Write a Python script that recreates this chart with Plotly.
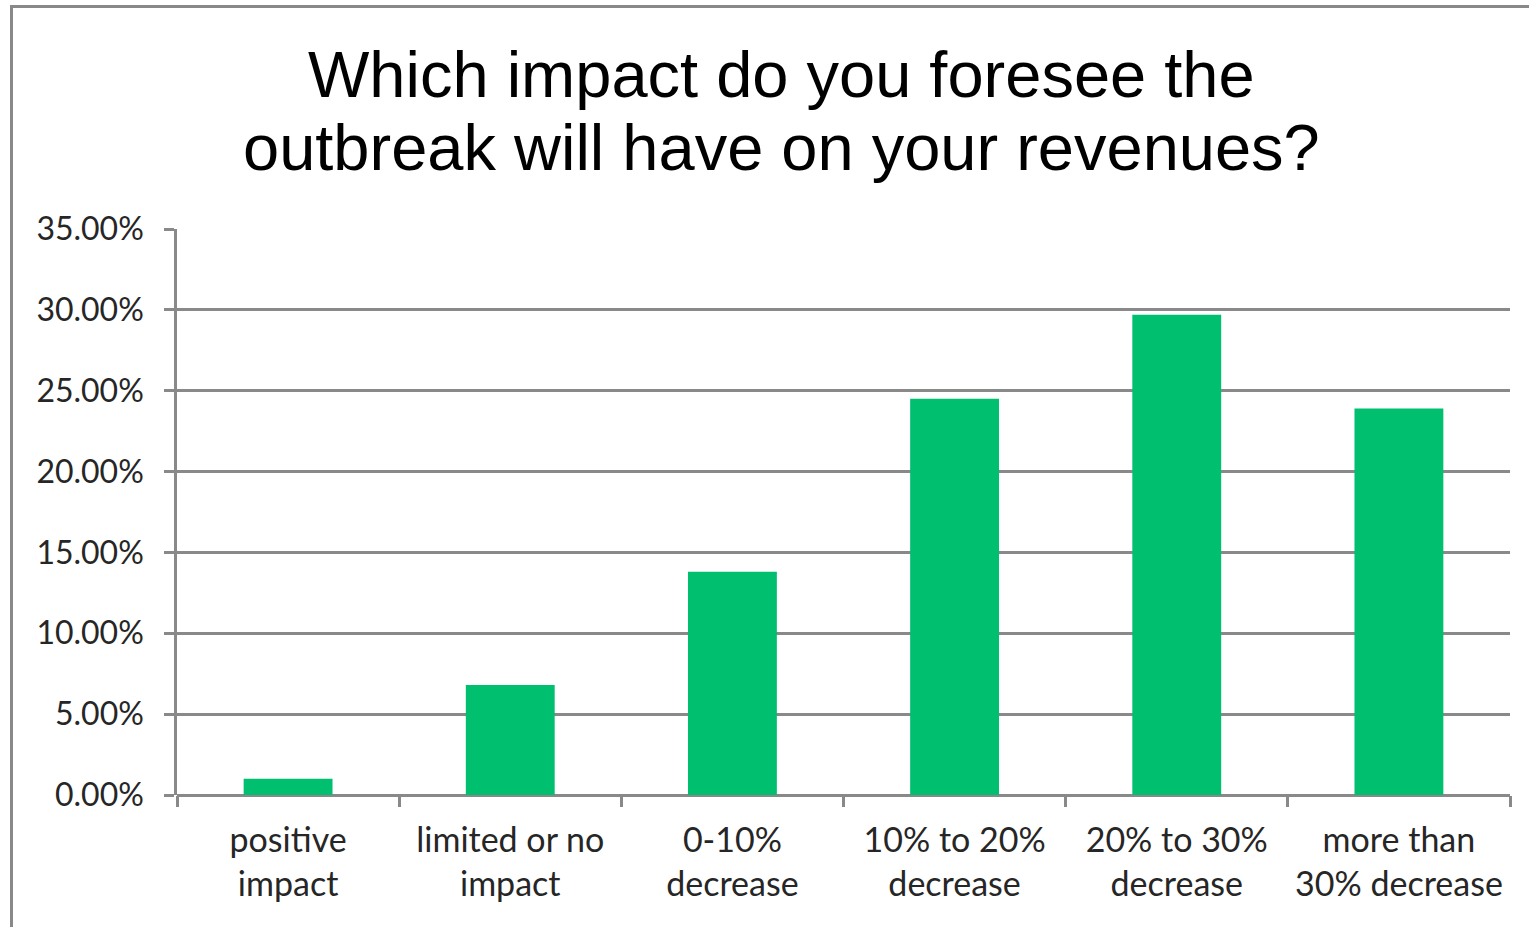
import plotly.graph_objects as go

# Survey answers and share of respondents (%)
categories = [
    "positive<br>impact",
    "limited or no<br>impact",
    "0-10%<br>decrease",
    "10% to 20%<br>decrease",
    "20% to 30%<br>decrease",
    "more than<br>30% decrease",
]
shares = [1.0, 6.8, 13.8, 24.5, 29.7, 23.9]
y_ticks = [0, 5, 10, 15, 20, 25, 30, 35]
title_lines = ["Which impact do you foresee the", "outbreak will have on your revenues?"]

W, H = 1529, 927
PL, PR, PT, PB = 177, 1510, 229, 795  # plot area in pixels


def px_x(p):
    return (p - PL) / (PR - PL)


def px_y(p):
    return (PB - p) / (PB - PT)


GRID = "#898989"
TEXT = "#262626"
TITLE_FONT = dict(family="'Liberation Sans', Arial, sans-serif", size=65, color="black")

fig = go.Figure(
    go.Bar(
        x=categories,
        y=shares,
        marker=dict(color="#00BF6F", line=dict(width=0)),
        width=0.4,
        hoverinfo="x+y",
    )
)

fig.update_layout(
    width=W,
    height=H,
    margin=dict(l=PL, r=W - PR, t=PT, b=H - PB),
    paper_bgcolor="white",
    plot_bgcolor="white",
    showlegend=False,
    font=dict(family="Lato, 'Open Sans', sans-serif", color=TEXT),
    xaxis=dict(
        showgrid=False,
        showline=False,
        ticks="outside",
        tickson="boundaries",
        ticklen=11,
        tickwidth=2.5,
        tickcolor=GRID,
        tickfont=dict(size=34, color=TEXT),
        ticklabelstandoff=22,
        fixedrange=True,
    ),
    yaxis=dict(
        range=[0, 35],
        tickvals=y_ticks,
        ticktext=[f"{v:.2f}%" for v in y_ticks],
        showgrid=True,
        gridcolor=GRID,
        gridwidth=2.5,
        zeroline=True,
        zerolinecolor=GRID,
        zerolinewidth=2.5,
        showline=True,
        linecolor=GRID,
        linewidth=2.5,
        ticks="outside",
        ticklen=10,
        tickwidth=2.5,
        tickcolor=GRID,
        tickfont=dict(size=32, color=TEXT),
        ticklabelstandoff=14,
        fixedrange=True,
    ),
    shapes=[
        # outer chart frame
        dict(
            type="rect",
            xref="paper",
            yref="paper",
            x0=px_x(11.5),
            x1=px_x(W + 40),
            y0=px_y(6.5),
            y1=px_y(H + 40),
            line=dict(color=GRID, width=3),
            fillcolor="rgba(0,0,0,0)",
            layer="below",
        )
    ],
    annotations=[
        dict(
            text=line,
            xref="paper",
            yref="paper",
            x=px_x(781),
            y=px_y(yc),
            xanchor="center",
            yanchor="middle",
            showarrow=False,
            font=TITLE_FONT,
        )
        for line, yc in zip(title_lines, [74, 147])
    ],
)

fig.write_html("out.html", config={"displayModeBar": False})
